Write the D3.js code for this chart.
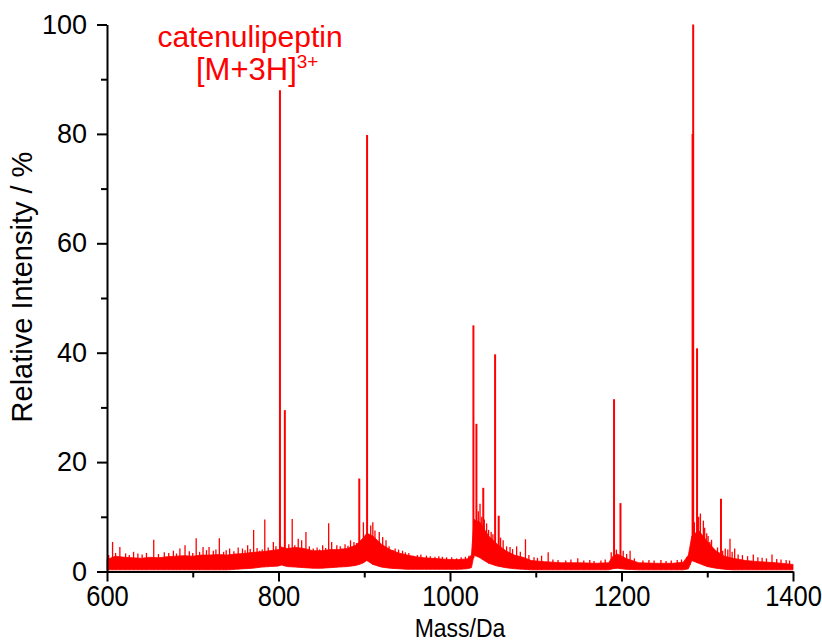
<!DOCTYPE html>
<html>
<head>
<meta charset="utf-8">
<script src="https://cdn.jsdelivr.net/npm/d3@7"></script>
<style>
  body { margin: 0; background: #fff; }
  text { font-family: "Liberation Sans", Arial, sans-serif; }
</style>
</head>
<body>
<svg id="chart" width="822" height="642"></svg>
<script>
// ===== mass spectrum: catenulipeptin =====

// noise band (lower / upper envelope of the baseline)
var bandMass = [600, 610, 620, 630, 640, 650, 660, 670, 680, 690, 700, 710, 720, 730, 740, 750, 760, 770, 780, 790,
  800, 803, 810, 820, 830, 840, 850, 860, 870, 880, 890, 898, 903, 910, 920, 930, 940, 950, 960, 970, 980, 990,
  1000, 1010, 1020, 1025, 1028, 1035, 1045, 1055, 1065, 1075, 1085, 1095, 1110, 1130, 1150, 1170, 1185, 1190,
  1195, 1205, 1220, 1240, 1260, 1272, 1278, 1282, 1290, 1300, 1310, 1320, 1330, 1345, 1360, 1380, 1400];
var bandLow = [0.3, 0.3, 0.3, 0.3, 0.3, 0.3, 0.3, 0.3, 0.3, 0.3, 0.3, 0.3, 0.3, 0.3, 0.3, 0.4, 0.5, 0.6, 0.8, 0.9,
  1.0, 1.2, 0.9, 0.8, 0.7, 0.6, 0.6, 0.7, 0.8, 0.9, 1.1, 1.5, 2.0, 1.3, 0.8, 0.6, 0.5, 0.4, 0.4, 0.4, 0.4, 0.4,
  0.4, 0.4, 0.5, 0.7, 3.0, 2.5, 1.5, 1.0, 0.7, 0.5, 0.4, 0.3, 0.3, 0.3, 0.3, 0.3, 0.3, 0.5,
  0.6, 0.4, 0.3, 0.3, 0.3, 0.3, 0.5, 2.0, 1.5, 0.9, 0.6, 0.4, 0.3, 0.3, 0.3, 0.3, 0.3];
var bandHigh = [2.2, 2.8, 2.6, 2.5, 2.4, 2.6, 2.5, 2.7, 2.8, 2.9, 2.8, 3.0, 3.0, 3.1, 3.0, 3.2, 3.3, 3.5, 3.6, 3.8,
  4.0, 4.5, 4.2, 4.4, 4.2, 3.8, 3.8, 4.0, 4.0, 4.2, 4.8, 6.0, 7.0, 6.5, 5.0, 4.0, 3.4, 3.0, 2.7, 2.5, 2.4, 2.3,
  2.2, 2.2, 2.3, 3.0, 9.5, 9.0, 6.5, 5.0, 3.8, 3.0, 2.6, 2.0, 1.8, 1.6, 1.6, 1.5, 1.6, 2.8,
  3.2, 2.4, 1.6, 1.5, 1.5, 1.7, 3.0, 6.5, 7.5, 5.5, 3.8, 2.8, 2.4, 2.0, 1.8, 1.6, 1.3];

// small spikes on top of the noise
var spikeMass = [602, 606.5, 610, 615, 621.7, 626, 631, 636, 641, 646, 654.5, 660, 666.8, 672, 677.4, 681, 685, 691,
  696, 700, 704, 708, 712, 716, 719, 724, 727, 731, 736, 739, 743, 748, 753, 758, 761, 764, 767, 771, 775, 778,
  781, 784, 788, 794, 797, 812, 816, 819, 823, 827, 832, 836, 840.5, 845, 848, 851.5, 855, 858.5, 862, 868, 872,
  874, 877.6, 881, 884, 888, 891, 899, 907.5, 910, 912.5, 917.5, 921.5, 925.4, 929, 933.5, 936, 940, 944.7, 948,
  952, 957, 962, 966, 972.5, 977, 982.5, 987, 991, 996, 1002, 1007.7, 1013, 1018, 1022, 1033, 1035, 1037, 1040,
  1042.7, 1045, 1048, 1050, 1059, 1062, 1066, 1070, 1073, 1077.7, 1082, 1088, 1092, 1098, 1102, 1106.8, 1114.5,
  1120, 1126, 1135, 1141, 1149, 1156, 1163, 1168, 1176, 1181, 1188, 1194, 1202, 1206, 1210, 1215, 1225, 1232,
  1238, 1246, 1252, 1258, 1265, 1270, 1276, 1279.8, 1285, 1290, 1292, 1295.5, 1297, 1299.4, 1301, 1303, 1305,
  1308, 1312, 1318, 1321, 1324, 1326.5, 1329, 1332, 1336, 1341, 1347, 1353.7, 1359, 1364, 1369, 1375.5, 1381,
  1386, 1392, 1396];
var spikeHeight = [3.0, 5.4, 3.4, 4.5, 3.3, 3.0, 3.6, 3.3, 3.1, 3.4, 5.8, 3.2, 3.5, 3.4, 3.8, 3.3, 4.2, 4.8,
  3.7, 3.4, 6.1, 3.6, 4.5, 3.9, 4.5, 3.8, 4.0, 6.1, 3.6, 3.9, 4.2, 3.7, 4.4, 4.2, 3.9, 4.8, 4.1, 7.6, 4.3, 3.8,
  4.0, 9.5, 4.4, 5.4, 4.6, 5.0, 9.6, 4.8, 6.0, 5.7, 7.2, 4.6, 4.2, 4.4, 4.0, 4.8, 4.3, 8.8, 5.4, 4.8, 4.6,
  4.2, 5.0, 4.7, 5.7, 5.4, 5.2, 9.0, 8.4, 9.0, 7.5, 7.2, 6.3, 5.7, 4.6, 3.9, 4.2, 4.0, 3.8, 3.5,
  3.4, 2.9, 3.0, 3.1, 2.9, 2.8, 2.7, 2.8, 2.7, 2.6, 2.6, 2.4, 2.6, 2.7, 2.9, 11.0, 12.4, 10.0, 9.5,
  8.8, 7.6, 7.2, 6.8, 6.2, 5.7, 4.6, 4.5, 4.1, 4.6, 3.6, 5.9, 3.0, 2.6, 2.5, 2.9, 3.5,
  2.2, 2.1, 2.0, 2.2, 2.4, 2.0, 2.1, 1.9, 2.0, 2.2, 3.5, 4.0, 3.8, 3.2, 3.8, 2.4, 2.0, 2.1,
  2.0, 2.1, 1.9, 2.0, 2.1, 2.2, 2.6, 3.7, 9.0, 10.0, 10.6, 9.3, 8.0, 7.0, 6.5, 5.4, 5.8,
  3.8, 4.4, 3.8, 4.2, 4.0, 6.0, 3.6, 4.2, 3.1, 3.0, 2.8, 3.1, 2.6, 2.5, 2.4, 3.1, 2.3,
  2.2, 2.1, 2.0];

// main peaks
var peakMass = [801.7, 807.4, 894.2, 903.3, 1027.3, 1030.8, 1038.8, 1052.6, 1056.8, 1191.3, 1198.8, 1282.9, 1283.6, 1288.1, 1316];
var peakHeight = [88, 29.5, 17, 79.8, 45, 27, 15.3, 39.7, 10.2, 31.5, 12.5, 80, 100, 40.8, 13.3];

var xMajor = [600, 800, 1000, 1200, 1400];
var xMinor = [700, 900, 1100, 1300];
var yMajor = [0, 20, 40, 60, 80, 100];
var yMinor = [10, 30, 50, 70, 90];

var RED = "#ff0000";
var width = 822, height = 642;
var margin = { top: 24.5, right: 29, bottom: 70.5, left: 107 };

var svg = d3.select("#chart");

var x = d3.scaleLinear().domain([600, 1400]).range([margin.left, width - margin.right]);
var y = d3.scaleLinear().domain([0, 100]).range([height - margin.bottom, margin.top]);

var plot = svg.append("g");

// noise band
var band = bandMass.map(function(m, i) { return { m: m, lo: bandLow[i], hi: bandHigh[i] }; });
plot.append("path")
  .datum(band)
  .attr("fill", RED)
  .attr("stroke", RED)
  .attr("stroke-width", 0.8)
  .attr("d", d3.area()
    .x(function(d) { return x(d.m); })
    .y0(function(d) { return y(d.lo); })
    .y1(function(d) { return y(d.hi); }));

// base level under a spike: lower envelope at that mass
function lowAt(m) {
  var i = d3.bisectLeft(bandMass, m);
  if (i <= 0) return bandLow[0];
  if (i >= bandMass.length) return bandLow[bandLow.length - 1];
  var t = (m - bandMass[i - 1]) / (bandMass[i] - bandMass[i - 1]);
  return bandLow[i - 1] + t * (bandLow[i] - bandLow[i - 1]);
}

plot.selectAll(".spike")
  .data(spikeMass)
  .join("line")
  .attr("class", "spike")
  .attr("x1", function(d) { return x(d); })
  .attr("x2", function(d) { return x(d); })
  .attr("y1", function(d) { return y(lowAt(d)); })
  .attr("y2", function(d, i) { return y(spikeHeight[i]); })
  .attr("stroke", RED)
  .attr("stroke-width", 1.3);

plot.selectAll(".peak")
  .data(peakMass)
  .join("line")
  .attr("class", "peak")
  .attr("x1", function(d) { return x(d); })
  .attr("x2", function(d) { return x(d); })
  .attr("y1", function(d) { return y(lowAt(d)); })
  .attr("y2", function(d, i) { return y(peakHeight[i]); })
  .attr("stroke", RED)
  .attr("stroke-width", 2);

// axes
function styleAxis(g) {
  g.selectAll(".domain").attr("stroke", "#000").attr("stroke-width", 2);
  g.selectAll(".tick line").attr("stroke", "#000").attr("stroke-width", 2);
  g.selectAll("text").attr("fill", "#000").attr("font-family", "'Liberation Sans', Arial, sans-serif");
}

var y0 = height - margin.bottom;

svg.append("g")
  .attr("transform", "translate(0," + y0 + ")")
  .call(d3.axisBottom(x).tickValues(xMinor).tickSize(6).tickFormat(""))
  .call(styleAxis)
  .select(".domain").remove();

// x tick labels in the reference are tall and slightly narrow
svg.append("g")
  .attr("transform", "translate(0," + y0 + ")")
  .call(d3.axisBottom(x).tickValues(xMajor).tickSize(10).tickSizeOuter(0).tickPadding(4).tickFormat(d3.format("d")))
  .call(styleAxis)
  .selectAll("text")
    .attr("font-size", 29)
    .attr("transform", "scale(0.88,1)");

svg.append("g")
  .attr("transform", "translate(" + margin.left + ",0)")
  .call(d3.axisLeft(y).tickValues(yMinor).tickSize(6).tickFormat(""))
  .call(styleAxis)
  .select(".domain").remove();

svg.append("g")
  .attr("transform", "translate(" + margin.left + ",0)")
  .call(d3.axisLeft(y).tickValues(yMajor).tickSize(10).tickSizeOuter(0).tickPadding(10).tickFormat(d3.format("d")))
  .call(styleAxis)
  .selectAll("text").attr("font-size", 27);

// axis titles
svg.append("text")
  .attr("transform", "translate(460,637) scale(0.92,1)")
  .attr("text-anchor", "middle")
  .attr("font-size", 25)
  .text("Mass/Da");

svg.append("text")
  .attr("transform", "translate(32,287) rotate(-90)")
  .attr("text-anchor", "middle")
  .attr("font-size", 29)
  .text("Relative Intensity / %");

// annotation
svg.append("text")
  .attr("x", 250).attr("y", 47)
  .attr("text-anchor", "middle")
  .attr("fill", RED)
  .attr("font-size", 30)
  .text("catenulipeptin");

var ion = svg.append("text")
  .attr("x", 196).attr("y", 80)
  .attr("fill", RED)
  .attr("font-size", 31);
ion.append("tspan").text("[M+3H]");
ion.append("tspan").attr("font-size", 19).attr("dy", -12).text("3+");
</script>
</body>
</html>
